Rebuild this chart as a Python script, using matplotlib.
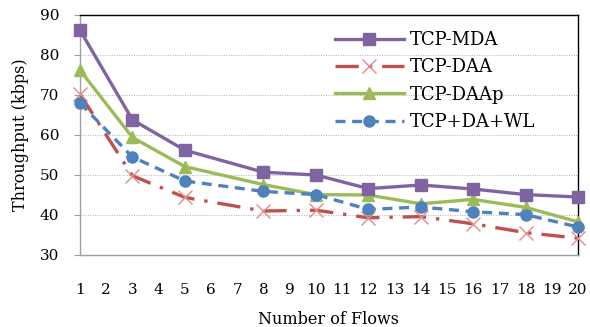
import matplotlib
matplotlib.use("Agg")
import matplotlib.pyplot as plt

flows = [1, 3, 5, 8, 10, 12, 14, 16, 18, 20]
mda = [86.2, 63.8, 56.2, 50.7, 50.0, 46.6, 47.5, 46.5, 45.1, 44.5]
daa = [70.2, 49.8, 44.4, 41.0, 41.2, 39.3, 39.6, 37.8, 35.6, 34.2]
daap = [76.2, 59.4, 52.1, 47.6, 45.1, 45.0, 42.8, 43.9, 41.9, 38.3]
dawl = [68.0, 54.5, 48.5, 45.9, 45.1, 41.4, 42.0, 40.8, 40.1, 37.0]
x_ticks = list(range(1, 21))
y_ticks = [30, 40, 50, 60, 70, 80, 90]

plt.rcParams['font.family'] = ['DejaVu Serif']

fig = plt.figure(figsize=(5.9, 3.27), dpi=100)
ax = fig.add_axes([80/590, 1-255/327, (578-80)/590, (255-15)/327])

ax.plot(flows, mda, color='#8064A2', lw=2.4, marker='s', ms=8, label='TCP-MDA',
        zorder=5, clip_on=False)
ax.plot(flows, daa, color='#C0504D', lw=2.4, dashes=(7, 3, 1, 3), marker='x', ms=10,
        mec='#E08C8A', mew=1.0, label='TCP-DAA', zorder=3, clip_on=False)
ax.plot(flows, daap, color='#9BBB59', lw=2.4, marker='^', ms=8, label='TCP-DAAp',
        zorder=4, clip_on=False)
ax.plot(flows, dawl, color='#4F81BD', lw=2.4, dashes=(3, 2), marker='o', ms=8,
        label='TCP+DA+WL', zorder=6, clip_on=False)

ax.set_xlim(1, 20)
ax.set_ylim(30, 90)
ax.set_xticks(x_ticks)
ax.set_yticks(y_ticks)
ax.tick_params(axis='x', length=0, pad=20, labelsize=11)
ax.tick_params(axis='y', length=4, color='#A0A0A0', pad=11, labelsize=11)
for y in y_ticks[1:-1]:
    ax.axhline(y, color='#B0B0B0', lw=0.7, ls=(0, (1, 1.5)), zorder=1)
ax.spines['left'].set_color('#A0A0A0')
ax.spines['bottom'].set_color('#A0A0A0')
ax.spines['top'].set_color('#000000')
ax.spines['right'].set_color('#000000')
for s in ax.spines.values():
    s.set_linewidth(1.0)

ax.set_ylabel('Throughput (kbps)', fontsize=11.5, labelpad=8)
ax.set_xlabel('Number of Flows', fontsize=11.5, labelpad=10)

ax.legend(loc='upper left', bbox_to_anchor=(335/590, 1-31/327),
          bbox_transform=fig.transFigure, frameon=False, fontsize=13,
          handlelength=3.8, labelspacing=0.52, handletextpad=0.35,
          borderpad=0, borderaxespad=0)

fig.savefig('out.png', dpi=100)
